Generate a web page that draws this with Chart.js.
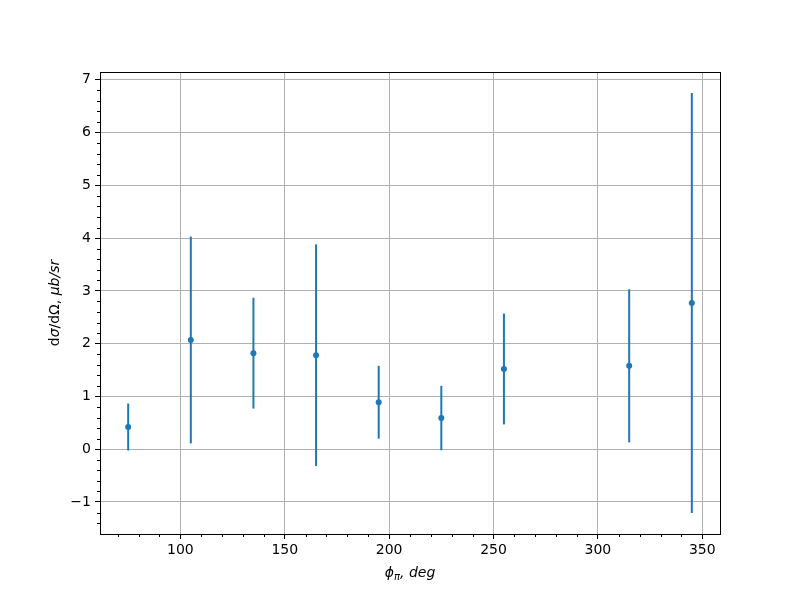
<!DOCTYPE html>
<html>
<head>
<meta charset="utf-8">
<script src="https://cdn.jsdelivr.net/npm/chart.js@4"></script>
<style>
    html, body { margin: 0; padding: 0; background: #fff; }
    #wrap { width: 800px; height: 600px; }
</style>
</head>
<body>
<div id="wrap"><canvas id="chart" width="800" height="600"></canvas></div>
<script>
// ----------------------------
// Data
// ----------------------------
var phiDeg = [75, 105, 135, 165, 195, 225, 255, 315, 345];
var xsec = [0.42, 2.07, 1.82, 1.78, 0.89, 0.59, 1.52, 1.58, 2.77];
var xsecErr = [0.445, 1.96, 1.05, 2.1, 0.69, 0.61, 1.05, 1.45, 3.98];
var xTicks = [100, 150, 200, 250, 300, 350];
var yTicks = [-1, 0, 1, 2, 3, 4, 5, 6, 7];

var BLUE = '#1f77b4';
var FONT = '"DejaVu Sans", sans-serif';

var points = phiDeg.map(function (x, i) {
    return { x: x, y: xsec[i], err: xsecErr[i] };
});

// ----------------------------
// Plugins: error bars, frame, minor ticks, axis labels
// ----------------------------
var errorBars = {
    id: 'errorBars',
    beforeDatasetsDraw: function (chart) {
        var ctx = chart.ctx;
        var xs = chart.scales.x, ys = chart.scales.y;
        ctx.save();
        ctx.strokeStyle = BLUE;
        ctx.lineWidth = 2;
        points.forEach(function (p) {
            var px = xs.getPixelForValue(p.x);
            ctx.beginPath();
            ctx.moveTo(px, ys.getPixelForValue(p.y - p.err));
            ctx.lineTo(px, ys.getPixelForValue(p.y + p.err));
            ctx.stroke();
        });
        ctx.restore();
    }
};

var frameAndLabels = {
    id: 'frameAndLabels',
    afterDraw: function (chart) {
        var ctx = chart.ctx;
        var a = chart.chartArea;
        var xs = chart.scales.x, ys = chart.scales.y;
        ctx.save();

        // minor ticks
        ctx.strokeStyle = '#000';
        ctx.lineWidth = 1;
        ctx.beginPath();
        for (var v = 70; v <= 350; v += 10) {
            if (v % 50 === 0) continue;
            var px = Math.round(xs.getPixelForValue(v)) + 0.5;
            ctx.moveTo(px, a.bottom);
            ctx.lineTo(px, a.bottom + 3);
        }
        for (var k = -7; k <= 35; k++) {
            if (k % 5 === 0) continue;
            var py = Math.round(ys.getPixelForValue(k / 5)) + 0.5;
            if (py < a.top || py > a.bottom) continue;
            ctx.moveTo(a.left, py);
            ctx.lineTo(a.left - 3, py);
        }
        ctx.stroke();

        // axes frame
        ctx.strokeRect(Math.round(a.left) + 0.5, Math.round(a.top) + 0.5,
            Math.round(a.right - a.left), Math.round(a.bottom - a.top));

        // x label: phi_pi, deg
        ctx.fillStyle = '#000';
        ctx.textBaseline = 'alphabetic';
        var cx = (a.left + a.right) / 2;
        var baseY = 577;
        var big = 'italic 14px ' + FONT;
        var small = 'italic 10px ' + FONT;
        ctx.font = big;
        var w1 = ctx.measureText('ϕ').width;
        var w3 = ctx.measureText(', deg').width;
        ctx.font = small;
        var w2 = ctx.measureText('π').width;
        var x0 = cx - (w1 + w2 + w3) / 2;
        ctx.textAlign = 'left';
        ctx.font = big;
        ctx.fillText('ϕ', x0, baseY);
        ctx.font = small;
        ctx.fillText('π', x0 + w1, baseY + 3);
        ctx.font = big;
        ctx.fillText(', deg', x0 + w1 + w2, baseY);

        // y label: dσ/dΩ, μb/sr
        ctx.translate(59, (a.top + a.bottom) / 2);
        ctx.rotate(-Math.PI / 2);
        var parts = [
            ['d', '14px ' + FONT],
            ['σ', 'italic 14px ' + FONT],
            ['/dΩ, ', '14px ' + FONT],
            ['μb/sr', 'italic 14px ' + FONT]
        ];
        var total = 0;
        parts.forEach(function (p) { ctx.font = p[1]; total += ctx.measureText(p[0]).width; });
        var xx = -total / 2;
        parts.forEach(function (p) {
            ctx.font = p[1];
            ctx.fillText(p[0], xx, 0);
            xx += ctx.measureText(p[0]).width;
        });
        ctx.restore();
    }
};

// ----------------------------
// Chart
// ----------------------------
new Chart(document.getElementById('chart').getContext('2d'), {
    type: 'scatter',
    data: {
        datasets: [{
            data: points,
            backgroundColor: BLUE,
            borderColor: BLUE,
            pointRadius: 3,
            pointBorderWidth: 0,
            pointHoverRadius: 3
        }]
    },
    options: {
        responsive: false,
        animation: false,
        events: [],
        layout: { padding: { left: 0, top: 72, right: 80, bottom: 0 } },
        plugins: { legend: { display: false }, tooltip: { enabled: false } },
        scales: {
            x: {
                type: 'linear',
                min: 61.5,
                max: 358.5,
                afterBuildTicks: function (s) { s.ticks = xTicks.map(function (v) { return { value: v }; }); },
                afterFit: function (s) { s.height = 66; },
                border: { display: false },
                grid: { color: '#b0b0b0', lineWidth: 1, tickColor: '#000', tickLength: 5 },
                ticks: { color: '#000', font: { family: FONT, size: 14 }, padding: 3, maxRotation: 0 }
            },
            y: {
                type: 'linear',
                min: -1.607,
                max: 7.148,
                afterBuildTicks: function (s) { s.ticks = yTicks.map(function (v) { return { value: v }; }); },
                afterFit: function (s) { s.width = 100; },
                border: { display: false },
                grid: { color: '#b0b0b0', lineWidth: 1, tickColor: '#000', tickLength: 5 },
                ticks: {
                    color: '#000', font: { family: FONT, size: 14 }, padding: 4,
                    callback: function (v) { return v < 0 ? '\u2212' + Math.abs(v) : String(v); }
                }
            }
        }
    },
    plugins: [errorBars, frameAndLabels]
});
</script>
</body>
</html>
